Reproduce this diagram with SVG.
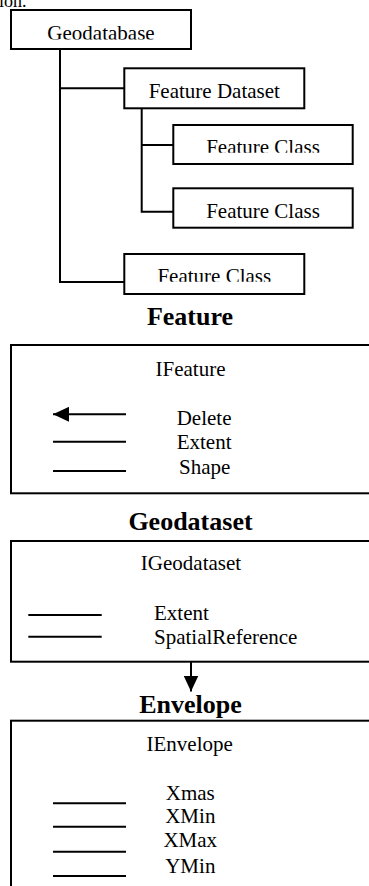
<svg xmlns="http://www.w3.org/2000/svg" width="369" height="886" viewBox="0 0 369 886">
<style>
.box{fill:#fff;stroke:#000;stroke-width:2}
.t{font-family:"Liberation Serif","Times New Roman",serif;font-size:21px;fill:#000}
.c{text-anchor:middle}
.h{font-family:"Liberation Serif","Times New Roman",serif;font-size:26px;font-weight:bold;fill:#000;text-anchor:middle}
.ln{stroke:#000;stroke-width:2;fill:none}
</style>
<defs>
<marker id="ah" viewBox="0 0 16 15" refX="16" refY="7.5" markerWidth="16" markerHeight="15" markerUnits="userSpaceOnUse" orient="auto">
<path d="M0,0 L16,7.5 L0,15 Z" fill="#000"/>
</marker>
<clipPath id="cg"><rect x="0" y="0" width="369" height="39.5"/></clipPath>
<clipPath id="c1"><rect x="0" y="0" width="369" height="152.7"/></clipPath>
<clipPath id="c3"><rect x="0" y="0" width="369" height="281.7"/></clipPath>
</defs>
<rect width="369" height="886" fill="#fff"/>
<text class="t" x="-1" y="7" style="font-size:18px">ion.</text>
<g id="connectors">
<path class="ln" d="M60,49 V282 H124"/>
<path class="ln" d="M60,88.3 H124"/>
<path class="ln" d="M141.7,108 V211.7 H173"/>
<path class="ln" d="M141.7,145 H173"/>
<path class="ln" d="M191,661.7 V691.5" marker-end="url(#ah)"/>
</g>
<g id="geodatabase">
<rect class="box" x="11" y="10" width="180" height="39"/>
<text class="t c" x="101" y="39.5" clip-path="url(#cg)">Geodatabase</text>
</g>
<g id="feature-dataset">
<rect class="box" x="124.3" y="68.3" width="180" height="40"/>
<text class="t c" x="214.3" y="97.7">Feature Dataset</text>
</g>
<g id="feature-class-1">
<rect class="box" x="173.3" y="125" width="179.4" height="39"/>
<text class="t c" x="263" y="154" clip-path="url(#c1)">Feature Class</text>
</g>
<g id="feature-class-2">
<rect class="box" x="173.3" y="188.3" width="179.4" height="39.4"/>
<text class="t c" x="263" y="218">Feature Class</text>
</g>
<g id="feature-class-3">
<rect class="box" x="124.3" y="254" width="180" height="40"/>
<text class="t c" x="214.3" y="282.5" clip-path="url(#c3)">Feature Class</text>
</g>
<g id="feature">
<text class="h" x="190" y="325">Feature</text>
<rect class="box" x="11" y="345" width="380" height="148.3"/>
<text class="t c" x="190.5" y="376">IFeature</text>
<line class="ln" x1="126" y1="414.3" x2="53" y2="414.3" marker-end="url(#ah)"/>
<line class="ln" x1="53" y1="441.7" x2="126" y2="441.7"/>
<line class="ln" x1="53" y1="471" x2="126" y2="471"/>
<text class="t" x="176.7" y="425">Delete</text>
<text class="t" x="176.7" y="449.3">Extent</text>
<text class="t" x="179" y="474">Shape</text>
</g>
<g id="geodataset">
<text class="h" x="190.5" y="530">Geodataset</text>
<rect class="box" x="11" y="541" width="380" height="120.7"/>
<text class="t c" x="191" y="570">IGeodataset</text>
<line class="ln" x1="28.3" y1="615" x2="101.7" y2="615"/>
<line class="ln" x1="28.3" y1="636.7" x2="101.7" y2="636.7"/>
<text class="t" x="154" y="620">Extent</text>
<text class="t" x="154" y="644">SpatialReference</text>
</g>
<g id="envelope">
<text class="h" x="190.5" y="712.7">Envelope</text>
<rect class="box" x="11" y="720.7" width="380" height="200"/>
<text class="t c" x="189.7" y="751">IEnvelope</text>
<line class="ln" x1="53" y1="803.3" x2="126" y2="803.3"/>
<line class="ln" x1="53" y1="826.7" x2="126" y2="826.7"/>
<line class="ln" x1="53" y1="851.7" x2="126" y2="851.7"/>
<line class="ln" x1="53" y1="876" x2="126" y2="876"/>
<text class="t c" x="190.3" y="800">Xmas</text>
<text class="t c" x="190.3" y="823.3">XMin</text>
<text class="t c" x="190.3" y="846.7">XMax</text>
<text class="t c" x="190.3" y="873">YMin</text>
</g>
</svg>
